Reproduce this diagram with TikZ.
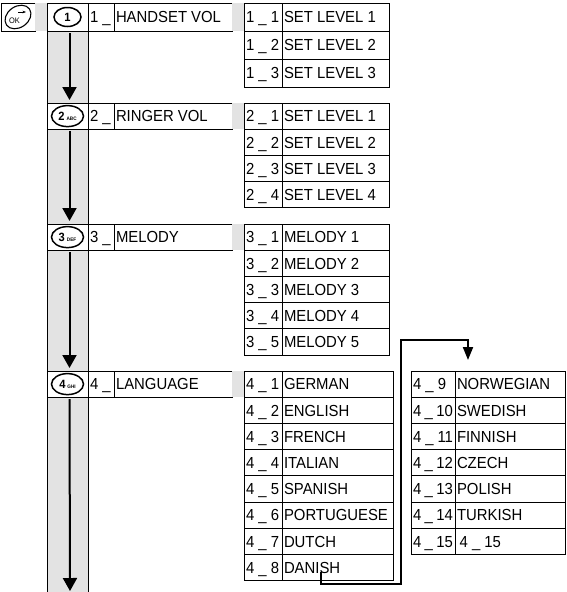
\documentclass[tikz,border=0pt]{standalone}
\usepackage{fontspec}
\setmainfont{Liberation Sans}[FakeStretch=0.93]
\usetikzlibrary{arrows.meta,backgrounds}

\tikzset{
  box/.style={draw, line width=0.8pt, anchor=north west, outer sep=0pt,
    inner xsep=2pt, inner ysep=0pt, minimum height=26.2pt,
    text height=11.5pt, text depth=0pt, font=\fontsize{16}{19}\selectfont},
  cell/.style={box, execute at begin node={\hbox to #1\bgroup},
    execute at end node={\hfil\egroup}},
  keycell/.style={box, minimum width=41pt, text height=8.5pt,
    font=\fontsize{12}{12}\selectfont\bfseries},
  strip/.style={fill=black!11},
  rail/.style={line width=0.8pt},
  down/.style={line width=2pt, -{Triangle[width=14pt,length=13pt]}},
  jump/.style={line width=2pt, -{Triangle[width=10pt,length=13pt]}},
  keyring/.style={line width=1.5pt}
}

\begin{document}
\begin{tikzpicture}[x=1pt, y=-1pt]
\useasboundingbox (0,0) rectangle (566,592);

\node[box, minimum width=34pt, minimum height=28pt] (ok) at (1,3) {};
\draw[keyring, line width=1.1pt, rotate around={35:(ok.center)}] (ok.center) ellipse [x radius=14, y radius=10.5];
\node[font=\fontsize{8}{8}\selectfont, inner sep=0pt] (oklabel) at ([shift={(-3.5,3.5)}]ok.center) {OK};
\draw[-{Stealth[length=3.5pt]}, line width=0.9pt] ([shift={(0,-5)}]ok.center) -- ++(8,0);
\fill[strip] (35,3) rectangle (47,31);
\node[keycell, minimum height=28pt] (k1) at (47,3) {1};
\draw[keyring] (k1.center) ellipse [x radius=13.5, y radius=9.5];
\node[cell=22pt, minimum height=28pt] (n1) at (88,3) {1 \_};
\node[cell=114pt, minimum height=28pt] (t1) at (114,3) {HANDSET VOL};
\fill[strip] (232,3) rectangle (244,31);
\foreach \i in {1,2,3} {
  \node[cell=34pt, minimum height=28pt] (s1\i) at (244,{3+28*(\i-1)}) {1 \_ \i};
  \node[cell=103pt, minimum height=28pt] (l1\i) at (282,{3+28*(\i-1)}) {SET LEVEL \i};
}

\node[keycell] (k2) at (47,103) {2\,{\tiny ABC}};
\draw[keyring] (k2.center) ellipse [x radius=16, y radius=10.5];
\node[cell=22pt] (n2) at (88,103) {2 \_};
\node[cell=114pt] (t2) at (114,103) {RINGER VOL};
\fill[strip] (232,103) rectangle (244,129.2);
\foreach \i in {1,...,4} {
  \node[cell=34pt] (s2\i) at (244,{103+26.2*(\i-1)}) {2 \_ \i};
  \node[cell=103pt] (l2\i) at (282,{103+26.2*(\i-1)}) {SET LEVEL \i};
}

\node[keycell] (k3) at (47,224) {3\,{\tiny DEF}};
\draw[keyring] (k3.center) ellipse [x radius=16, y radius=10.5];
\node[cell=22pt] (n3) at (88,224) {3 \_};
\node[cell=114pt] (t3) at (114,224) {MELODY};
\fill[strip] (232,224) rectangle (244,250.2);
\foreach \i in {1,...,5} {
  \node[cell=34pt] (s3\i) at (244,{224+26.2*(\i-1)}) {3 \_ \i};
  \node[cell=103pt] (l3\i) at (282,{224+26.2*(\i-1)}) {MELODY \i};
}

\node[keycell] (k4) at (47,371) {4\,{\tiny GHI}};
\draw[keyring] (k4.center) ellipse [x radius=16, y radius=10.5];
\node[cell=22pt] (n4) at (88,371) {4 \_};
\node[cell=114pt] (t4) at (114,371) {LANGUAGE};
\fill[strip] (232,371) rectangle (244,397.2);
\foreach \i/\lang in {1/GERMAN,2/ENGLISH,3/FRENCH,4/ITALIAN,5/SPANISH,6/PORTUGUESE,7/DUTCH,8/DANISH} {
  \node[cell=34pt] (s4\i) at (244,{371+26.2*(\i-1)}) {4 \_ \i};
  \node[cell=107pt] (l4\i) at (282,{371+26.2*(\i-1)}) {\lang};
}
\foreach \i/\lang in {9/NORWEGIAN,10/SWEDISH,11/FINNISH,12/CZECH,13/POLISH,14/TURKISH,15/\,4 \_ 15} {
  \node[cell=40pt] (s4\i) at (411,{371+26.2*(\i-9)}) {4 \_ \i};
  \node[cell=106pt] (l4\i) at (455,{371+26.2*(\i-9)}) {\lang};
}

\begin{scope}[on background layer]
\foreach \a/\b in {k1/k2,k2/k3,k3/k4}
  \fill[strip] (\a.south west) rectangle (\b.north east);
\fill[strip] (k4.south west) rectangle (88,592);
\end{scope}
\foreach \a/\b in {k1/k2,k2/k3,k3/k4} {
  \draw[rail] (\a.south west) -- (\b.north west) (\a.south east) -- (\b.north east);
  \draw[down, shorten <=2pt, shorten >=3pt] ([xshift=2pt]\a.south) -- ([xshift=2pt]\b.north);
}
\coordinate (bottom) at (70,592);
\draw[rail] (k4.south west) -- (47,592) (k4.south east) -- (88,592);
\draw[down, shorten <=2pt, shorten >=1pt] ([xshift=2pt]k4.south) -- (bottom);

\coordinate (from) at (321,572);
\coordinate (into) at (468,360);
\draw[jump] (from) |- (401,584) |- (468,340) -- (into);
\end{tikzpicture}
\end{document}
